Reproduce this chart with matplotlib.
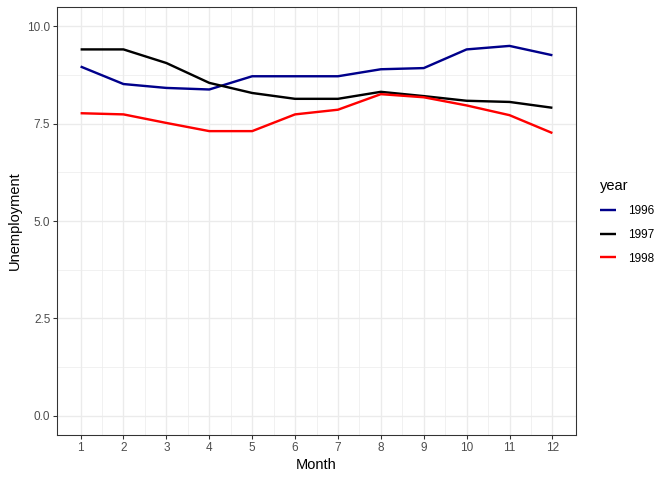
import numpy as np
import matplotlib
matplotlib.use('Agg')
import matplotlib.pyplot as plt
from matplotlib.ticker import FixedLocator

plt.rcParams['font.family'] = ['Liberation Sans', 'DejaVu Sans']

# Data
months = list(range(1, 13))
u1996 = [8.97, 8.52, 8.42, 8.38, 8.72, 8.72, 8.72, 8.90, 8.93, 9.41, 9.50, 9.26]
u1997 = [9.41, 9.41, 9.06, 8.55, 8.29, 8.14, 8.14, 8.32, 8.21, 8.09, 8.06, 7.91]
u1998 = [7.77, 7.74, 7.52, 7.31, 7.31, 7.74, 7.86, 8.26, 8.18, 7.97, 7.72, 7.26]
years = ['1996', '1997', '1998']
colors = ['#00008B', '#000000', '#FF0000']
yticks = [0.0, 2.5, 5.0, 7.5, 10.0]

fig = plt.figure(figsize=(7, 5), dpi=96)
ax = fig.add_axes([57 / 672, 1 - 435 / 480, (576 - 57) / 672, (435 - 7) / 480])

for vals, lab, col in zip([u1996, u1997, u1998], years, colors):
    ax.plot(months, vals, color=col, linewidth=1.8, label=lab, solid_capstyle='butt')

ax.set_xlim(0.45, 12.55)
ax.set_ylim(-0.5, 10.5)
ax.set_xticks(months)
ax.set_yticks(yticks)
ax.set_yticklabels([f'{v:.1f}' for v in yticks])
ax.xaxis.set_minor_locator(FixedLocator(np.arange(1.5, 12, 1.0)))
ax.yaxis.set_minor_locator(FixedLocator([1.25, 3.75, 6.25, 8.75]))

ax.grid(which='major', color='#EBEBEB', linewidth=1.0)
ax.grid(which='minor', color='#EBEBEB', linewidth=0.5)
ax.set_axisbelow(True)
for s in ax.spines.values():
    s.set_color('#333333')
    s.set_linewidth(0.8)

ax.tick_params(which='major', length=3, width=0.8, color='#333333',
               labelsize=8.8, labelcolor='#4D4D4D', pad=2)
ax.tick_params(which='minor', length=0)

ax.set_xlabel('Month', fontsize=11, labelpad=3)
ax.set_ylabel('Unemployment', fontsize=11, labelpad=4)

leg = ax.legend(title='year', loc='center left', bbox_to_anchor=(600 / 672, 1 - 222 / 480),
                bbox_transform=fig.transFigure, frameon=False, fontsize=8.8,
                title_fontsize=11, handlelength=1.4, handletextpad=1.0,
                labelspacing=1.0, borderaxespad=0, borderpad=0)
leg._legend_box.align = 'left'
leg.get_lines()
for h in leg.legend_handles:
    h.set_linewidth(1.8)

fig.savefig('out.png', dpi=96)
